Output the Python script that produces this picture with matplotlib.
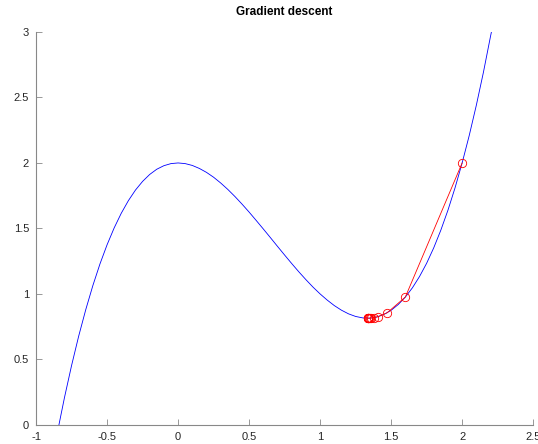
import matplotlib
matplotlib.use("Agg")
import matplotlib.pyplot as plt

plt.rcParams["font.family"] = ["Liberation Sans", "DejaVu Sans"]

# curve samples
curve_x = [-0.85, -0.80, -0.75, -0.70, -0.65, -0.60, -0.55, -0.50, -0.45, -0.40,
           -0.35, -0.30, -0.25, -0.20, -0.15, -0.10, -0.05, 0.00, 0.05, 0.10,
           0.15, 0.20, 0.25, 0.30, 0.35, 0.40, 0.45, 0.50, 0.55, 0.60,
           0.65, 0.70, 0.75, 0.80, 0.85, 0.90, 0.95, 1.00, 1.05, 1.10,
           1.15, 1.20, 1.25, 1.30, 1.35, 1.40, 1.45, 1.50, 1.55, 1.60,
           1.65, 1.70, 1.75, 1.80, 1.85, 1.90, 1.95, 2.00, 2.05, 2.10,
           2.15, 2.20, 2.21]
curve_y = [-0.059, 0.208, 0.453, 0.677, 0.880, 1.064, 1.229, 1.375, 1.504, 1.616,
           1.712, 1.793, 1.859, 1.912, 1.952, 1.979, 1.995, 2.000, 1.995, 1.981,
           1.958, 1.928, 1.891, 1.847, 1.798, 1.744, 1.686, 1.625, 1.561, 1.496,
           1.430, 1.363, 1.297, 1.232, 1.169, 1.109, 1.052, 1.000, 0.953, 0.911,
           0.876, 0.848, 0.828, 0.817, 0.815, 0.824, 0.844, 0.875, 0.919, 0.976,
           1.047, 1.133, 1.234, 1.352, 1.487, 1.639, 1.810, 2.000, 2.210, 2.441,
           2.693, 2.968, 3.020]

# descent iterates
step_x = [2.0, 1.6, 1.472, 1.4108, 1.3780, 1.3595, 1.3489, 1.3426, 1.3389,
          1.3366, 1.3353, 1.3345, 1.3341]
step_y = [2.0, 0.976, 0.856, 0.8273, 0.8189, 0.8162, 0.8153, 0.8150, 0.8149,
          0.8148, 0.8148, 0.8148, 0.8148]

x_ticks = [-1, -0.5, 0, 0.5, 1, 1.5, 2, 2.5]
y_ticks = [0, 0.5, 1, 1.5, 2, 2.5, 3]

fig = plt.figure(figsize=(5.38, 4.44), dpi=100)
ax = fig.add_axes([0.067, 0.043, 0.924, 0.885])

ax.plot(curve_x, curve_y, color="#0000ff", lw=0.6)
ax.plot(step_x, step_y, "-o", color="#ff0000", lw=0.6, markersize=6,
        markerfacecolor="none", markeredgewidth=0.6)

ax.set_xlim(-1, 2.5)
ax.set_ylim(0, 3)
ax.set_xticks(x_ticks)
ax.set_xticklabels(["-1", "-0.5", "0", "0.5", "1", "1.5", "2", "2.5"])
ax.set_yticks(y_ticks)
ax.set_yticklabels(["0", "0.5", "1", "1.5", "2", "2.5", "3"])

for s in ["top", "right"]:
    ax.spines[s].set_visible(False)
for s in ["left", "bottom"]:
    ax.spines[s].set_color("#888888")
    ax.spines[s].set_linewidth(0.8)
ax.tick_params(direction="in", length=4, width=0.6, color="#888888",
               labelsize=8, labelcolor="#262626", pad=5)

ax.set_title("Gradient descent", fontsize=8.5, fontweight="bold", pad=12)

fig.savefig("out.png", dpi=100)
